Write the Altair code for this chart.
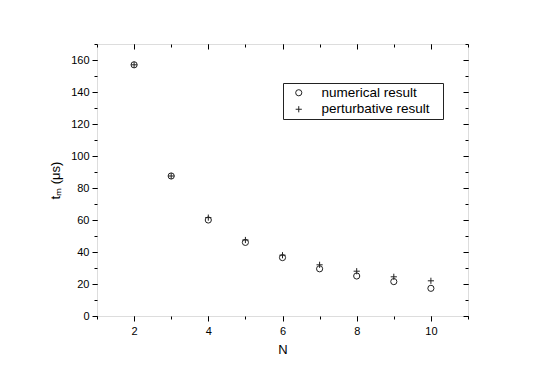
import altair as alt
import pandas as pd

N = [2, 3, 4, 5, 6, 7, 8, 9, 10]
numerical = [157, 87.5, 60, 46, 36.5, 29.5, 25, 21.5, 17.3]
perturbative = [157, 87.5, 61.5, 47.5, 38, 32, 28, 24.5, 22]
series_names = ["numerical result", "perturbative result"]
x_major = [2, 4, 6, 8, 10]
x_minor = [1, 2, 3, 4, 5, 6, 7, 8, 9, 10, 11]
y_major = [0, 20, 40, 60, 80, 100, 120, 140, 160]
y_minor = [0, 10, 20, 30, 40, 50, 60, 70, 80, 90, 100, 110, 120, 130, 140, 150, 160, 170]

rows = []
for n, a, b in zip(N, numerical, perturbative):
    rows.append({"N": n, "t": a, "series": series_names[0]})
    rows.append({"N": n, "t": b, "series": series_names[1]})
df = pd.DataFrame(rows)

FONT = "Liberation Sans"
xs = alt.Scale(domain=[1, 11], nice=False)
ys = alt.Scale(domain=[0, 170], nice=False)

def ax(orient, values, size, labels=False, title=None, offset=0):
    kw = dict(orient=orient, values=values, tickSize=size, labels=labels, domain=False,
              grid=False, tickColor="black", tickWidth=1, offset=offset)
    if labels:
        kw.update(labelFont=FONT, labelFontSize=11, labelColor="black",
                  labelPadding=3 if orient == "left" else 4)
    if title is not None:
        kw.update(title=title, titleFont=FONT, titleFontSize=13, titleFontWeight="normal",
                  titleColor="black", titlePadding=8 if orient == "left" else 7)
    else:
        kw.update(title=None)
    return alt.Axis(**kw)

plus_path = "M-1,0H1M0,-1V1"
pad = "\u2800"

main = alt.Chart(df).mark_point(filled=False, color="#222222", strokeWidth=1, size=38, opacity=1).encode(
    x=alt.X("N:Q", scale=xs, axis=ax("bottom", x_major, 5, labels=True, title="N")),
    y=alt.Y("t:Q", scale=ys, axis=ax("left", y_major, 5, labels=True, title="tₘ (μs)")),
    shape=alt.Shape("series:N", scale=alt.Scale(domain=series_names, range=["circle", plus_path]),
                    legend=alt.Legend(orient="none", legendX=186, legendY=39, title=None,
                                      strokeColor="#222222", fillColor="white", padding=3,
                                      labelFont=FONT, labelFontSize=13.5, labelColor="black",
                                      labelExpr="datum.label + '" + pad + "'",
                                      symbolOffset=6, labelOffset=16, rowPadding=1.5,
                                      symbolSize=38,
                                      symbolStrokeColor="#222222", symbolStrokeWidth=1,
                                      symbolFillColor="transparent")),
)

def ghost(xa, ya):
    return alt.Chart(df).mark_point(opacity=0).encode(
        x=alt.X("N:Q", scale=xs, axis=xa),
        y=alt.Y("t:Q", scale=ys, axis=ya),
    )

l2 = ghost(ax("bottom", x_minor, 3), ax("left", y_minor, 3))
l3 = ghost(ax("top", x_major, 5, offset=-5), ax("right", y_major, 5, offset=-5))
l4 = ghost(ax("top", x_minor, 3, offset=-3), ax("right", y_minor, 3, offset=-3))

chart = alt.layer(main, l2, l3, l4).resolve_axis(x="independent", y="independent").properties(
    width=371, height=272,
    autosize=alt.AutoSizeParams(type="none"),
    padding={"left": 89, "top": 36, "right": 60, "bottom": 50},
).configure_view(stroke="#111111", strokeWidth=1.5).configure(background="white")

chart.save("out.html", embed_options={"renderer": "svg", "actions": False})
